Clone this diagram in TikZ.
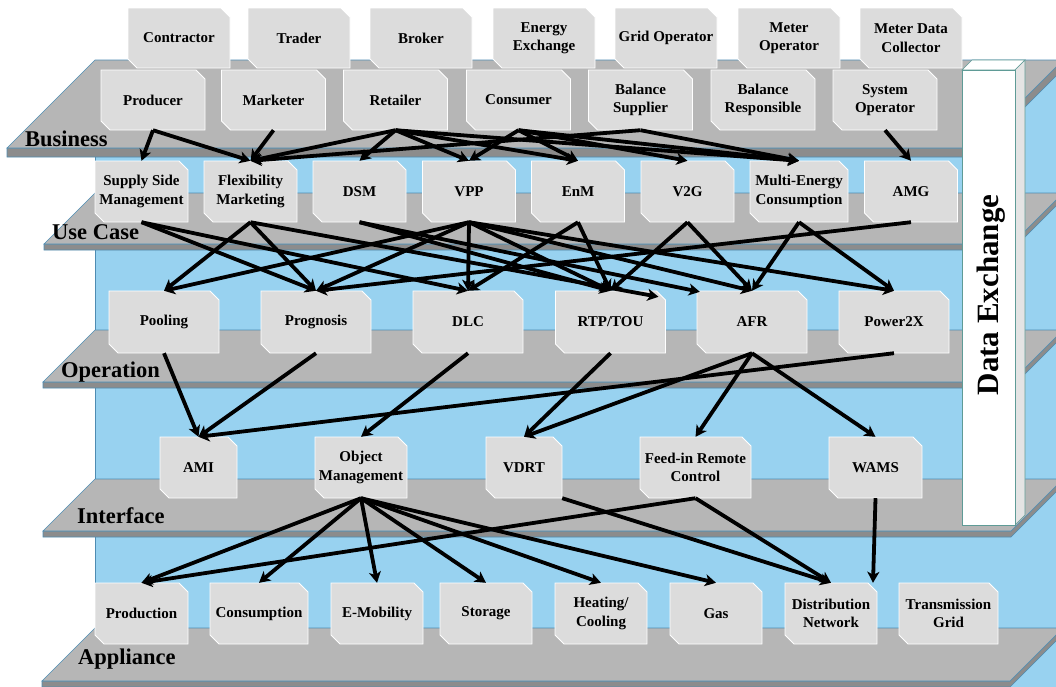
\documentclass[tikz,border=0pt]{standalone}
\usepackage{fontspec}
\setmainfont{Liberation Serif}
\usetikzlibrary{arrows.meta,calc}
\definecolor{wall}{RGB}{152,210,240}
\definecolor{shelftop}{RGB}{182,182,182}
\definecolor{shelfedge}{RGB}{140,140,140}
\definecolor{shelfline}{RGB}{78,140,178}
\definecolor{boxfill}{RGB}{220,220,220}
\definecolor{dxside}{RGB}{228,228,228}
\definecolor{dxline}{RGB}{95,155,150}
\tikzset{
  eboxshape/.style={fill=boxfill, draw=white, line width=0.8pt},
  eboxtext/.style={rectangle, inner sep=0pt, align=center, text=black,
    font=\bfseries\fontsize{15}{18.5}\selectfont},
  layer/.style={anchor=base west, inner sep=0pt, font=\bfseries\fontsize{22.5}{24}\selectfont},
  arr/.style={-{Stealth[length=11pt,width=12pt,inset=3pt]}, line width=3.8pt, black},
  shelfface/.style={fill=shelftop, draw=shelfline, line width=0.6pt},
  shelfstrip/.style={fill=shelfedge, draw=shelfline, line width=0.6pt},
}
\newcommand{\mkbox}[6]{%
  \path[eboxshape] ({#2-#4/2},{#3-#5/2}) -- ({#2+#4/2-9},{#3-#5/2}) -- ({#2+#4/2},{#3-#5/2+9})
    -- ({#2+#4/2},{#3+#5/2}) -- ({#2-#4/2+9},{#3+#5/2}) -- ({#2-#4/2},{#3+#5/2-9}) -- cycle;
  \node[eboxtext, minimum width=#4pt, minimum height=#5pt] (#1) at (#2,#3) {#6};
}
\newcommand{\mkshelf}[3]{% back y, depth, thickness
  \path[shelfstrip] ({95-#2},{#1+#2}) -- ({1063-#2},{#1+#2}) -- (1063,#1) -- (1063,{#1+#3})
    -- ({1063-#2},{#1+#2+#3}) -- ({95-#2},{#1+#2+#3}) -- cycle;
  \path[shelfface] (95,#1) -- (1063,#1) -- ({1063-#2},{#1+#2}) -- ({95-#2},{#1+#2}) -- cycle;
}
\begin{document}
\begin{tikzpicture}[x=1pt,y=-1pt]
\useasboundingbox (0,0) rectangle (1056,686);
\clip (0,0) rectangle (1056,686);
% back wall
\path[fill=wall, draw=shelfline, line width=0.6pt] (95,60) rectangle (1070,700);
% shelves
\mkshelf{60}{88}{9}
\mkshelf{193}{51}{6}
\mkshelf{330}{52}{6}
\mkshelf{479}{52}{6}
\mkshelf{628}{53}{6}
% layer labels
\node[layer] (lbus) at (25,146) {Business};
\node[layer] (luse) at (52,239) {Use Case};
\node[layer] (lop) at (61,377) {Operation};
\node[layer] (lint) at (77,523) {Interface};
\node[layer] (lapp) at (78,664) {Appliance};
% top row
\mkbox{contractor}{179}{38}{102}{60}{Contractor}
\mkbox{trader}{299}{38}{102}{60}{Trader}
\mkbox{broker}{421}{38}{102}{60}{Broker}
\mkbox{eex}{544}{38}{102}{60}{Energy\\Exchange}
\mkbox{gridop}{666}{38}{102}{60}{Grid Operator}
\mkbox{meterop}{789}{38}{102}{60}{Meter\\Operator}
\mkbox{mdc}{911}{38}{102}{60}{Meter Data\\Collector}
% business row
\mkbox{producer}{153}{100}{104}{60}{Producer}
\mkbox{marketer}{273.5}{100}{104}{60}{Marketer}
\mkbox{retailer}{395.5}{100}{104}{60}{Retailer}
\mkbox{consumer}{518.5}{100}{104}{60}{Consumer}
\mkbox{balsup}{640.5}{100}{104}{60}{Balance\\Supplier}
\mkbox{balresp}{763}{100}{104}{60}{Balance\\Responsible}
\mkbox{sysop}{885}{100}{104}{60}{System\\Operator}
% use case row
\mkbox{ssm}{141.5}{191.5}{93}{61}{Supply Side\\Management}
\mkbox{fm}{250.5}{191.5}{93}{61}{Flexibility\\Marketing}
\mkbox{dsm}{359.5}{191.5}{93}{61}{DSM}
\mkbox{vpp}{469}{191.5}{93}{61}{VPP}
\mkbox{enm}{578}{191.5}{93}{61}{EnM}
\mkbox{vtog}{687.5}{191.5}{93}{61}{V2G}
\mkbox{mec}{799}{191.5}{98}{61}{Multi-Energy\\Consumption}
\mkbox{amg}{911}{191.5}{93}{61}{AMG}
% operation row
\mkbox{pool}{164}{322}{110}{62}{Pooling}
\mkbox{prog}{316}{322}{110}{62}{Prognosis}
\mkbox{dlc}{468}{322}{110}{62}{DLC}
\mkbox{rtp}{610.5}{322}{110}{62}{RTP/TOU}
\mkbox{afr}{752}{322}{110}{62}{AFR}
\mkbox{ptx}{894}{322}{110}{62}{Power2X}
% interface row
\mkbox{ami}{198.5}{467.5}{77}{61}{AMI}
\mkbox{om}{361}{467.5}{92}{61}{Object\\Management}
\mkbox{vdrt}{524}{467.5}{76}{61}{VDRT}
\mkbox{feedin}{695.5}{467.5}{111}{61}{Feed-in Remote\\Control}
\mkbox{wams}{875.5}{467.5}{93}{61}{WAMS}
% appliance row
\mkbox{prod}{141.5}{613.5}{93}{61}{Production}
\mkbox{cons}{259}{613.5}{98}{61}{Consumption}
\mkbox{emob}{377}{613.5}{92}{61}{E-Mobility}
\mkbox{stor}{486}{613.5}{92}{61}{Storage}
\mkbox{heat}{601}{613.5}{92}{61}{Heating/\\Cooling}
\mkbox{gas}{716}{613.5}{92}{61}{Gas}
\mkbox{dn}{831}{613.5}{92}{61}{Distribution\\Network}
\mkbox{tg}{948.5}{613.5}{99}{61}{Transmission\\Grid}
% data exchange column
\path[fill=white, draw=dxline, line width=0.6pt] (962,70) -- (972,60) -- (1025,60) -- (1015,70) -- cycle;
\path[fill=dxside, draw=dxline, line width=0.6pt] (1015,70) -- (1025,60) -- (1025,515) -- (1015,525) -- cycle;
\path[fill=white, draw=dxline, line width=0.6pt] (962,70) rectangle (1015,525);
\node[rotate=90, inner sep=0pt, font=\bfseries\fontsize{31}{31}\selectfont] (dx) at (991,295) {Data Exchange};
% business -> use case
\draw[arr] (producer.south) -- (ssm.north);
\draw[arr] (producer.south) -- (fm.north);
\draw[arr] (marketer.south) -- (fm.north);
\draw[arr] (retailer.south) -- (fm.north);
\draw[arr] (balsup.south) -- (fm.north);
\draw[arr] (retailer.south) -- (dsm.north);
\draw[arr] (retailer.south) -- (vpp.north);
\draw[arr] (retailer.south) -- (enm.north);
\draw[arr] (retailer.south) -- (mec.north);
\draw[arr] (consumer.south) -- (vpp.north);
\draw[arr] (consumer.south) -- (enm.north);
\draw[arr] (consumer.south) -- (vtog.north);
\draw[arr] (consumer.south) -- (mec.north);
\draw[arr] (balsup.south) -- (mec.north);
\draw[arr] (sysop.south) -- (amg.north);
% use case -> operation
\coordinate (rtpr) at ($(rtp.north)+(48,6)$);
\coordinate (afrl) at ($(afr.north west)+(3,1)$);
\draw[arr] (ssm.south) -- (prog.north);
\draw[arr] (ssm.south) -- (dlc.north);
\draw[arr] (fm.south) -- (pool.north);
\draw[arr] (fm.south) -- (prog.north);
\draw[arr] (fm.south) -- (rtpr);
\draw[arr] (dsm.south) -- (rtp.north);
\draw[arr] (dsm.south) -- (afrl);
\draw[arr] (vpp.south) -- (pool.north);
\draw[arr] (vpp.south) -- (prog.north);
\draw[arr] (vpp.south) -- (dlc.north);
\draw[arr] (vpp.south) -- (rtp.north);
\draw[arr] (vpp.south) -- (afr.north);
\draw[arr] (vpp.south) -- (ptx.north);
\draw[arr] (enm.south) -- (dlc.north);
\draw[arr] (enm.south) -- (rtp.north);
\draw[arr] (vtog.south) -- (rtp.north);
\draw[arr] (vtog.south) -- (afr.north);
\draw[arr] (mec.south) -- (afr.north);
\draw[arr] (mec.south) -- (ptx.north);
\draw[arr] (amg.south) -- (prog.north);
% operation -> interface
\draw[arr] (pool.south) -- (ami.north);
\draw[arr] (prog.south) -- (ami.north);
\draw[arr] (ptx.south) -- (ami.north);
\draw[arr] (dlc.south) -- (om.north);
\draw[arr] (rtp.south) -- (vdrt.north);
\draw[arr] (afr.south) -- (vdrt.north);
\draw[arr] (afr.south) -- (feedin.north);
\draw[arr] (afr.south) -- (wams.north);
% interface -> appliance
\coordinate (dnr) at ($(dn.north)+(42,0)$);
\draw[arr] (om.south) -- (prod.north);
\draw[arr] (om.south) -- (cons.north);
\draw[arr] (om.south) -- (emob.north);
\draw[arr] (om.south) -- (stor.north);
\draw[arr] (om.south) -- (heat.north);
\draw[arr] (om.south) -- (gas.north);
\draw[arr] (feedin.south) -- (prod.north);
\draw[arr] (vdrt.south east) -- (dn.north);
\draw[arr] (feedin.south) -- (dn.north);
\draw[arr] (wams.south) -- (dnr);
\end{tikzpicture}
\end{document}
